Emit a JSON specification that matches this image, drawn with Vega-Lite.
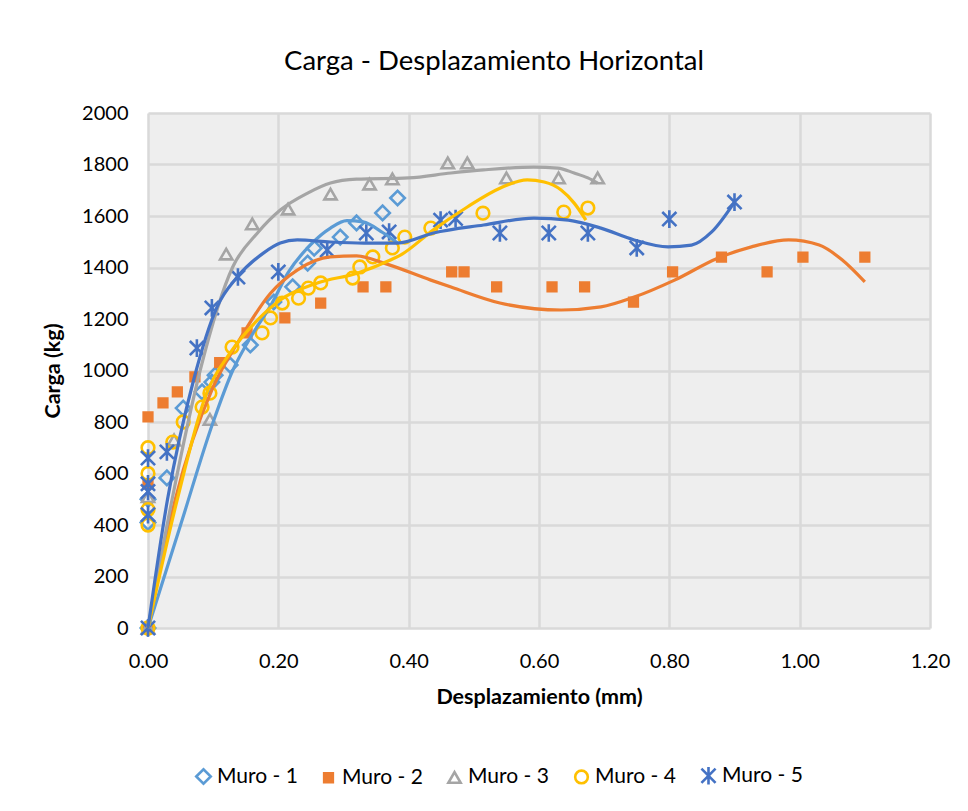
{
  "$schema": "https://vega.github.io/schema/vega-lite/v6.json",
  "width": 782,
  "height": 515,
  "autosize": {"type": "none"},
  "padding": {"left": 148, "top": 113, "right": 38, "bottom": 183},
  "background": "white",
  "config": {
    "view": {"fill": "#eeeeee", "stroke": null},
    "font": "Lato",
    "axis": {
      "domain": false,
      "ticks": false,
      "grid": true,
      "gridColor": "#d9d9d9",
      "gridWidth": 2.5,
      "labelFont": "Lato",
      "labelFontSize": 20,
      "labelColor": "#000000",
      "labelFlush": false,
      "titleFont": "Lato",
      "titleFontSize": 21.5,
      "titleFontWeight": "bold",
      "titleColor": "#000000"
    }
  },
  "title": {
    "text": "Carga - Desplazamiento Horizontal",
    "font": "Lato",
    "fontSize": 27.5,
    "fontWeight": "normal",
    "color": "#000000",
    "offset": 28,
    "dx": -45
  },
  "datasets": {
    "pts": [
      {"serie": "Muro - 1", "x": 0, "y": 0},
      {"serie": "Muro - 1", "x": 0, "y": 500},
      {"serie": "Muro - 1", "x": 0, "y": 410},
      {"serie": "Muro - 1", "x": 0.029, "y": 583},
      {"serie": "Muro - 1", "x": 0.054, "y": 854},
      {"serie": "Muro - 1", "x": 0.083, "y": 917},
      {"serie": "Muro - 1", "x": 0.098, "y": 955},
      {"serie": "Muro - 1", "x": 0.103, "y": 982},
      {"serie": "Muro - 1", "x": 0.126, "y": 1021},
      {"serie": "Muro - 1", "x": 0.157, "y": 1099},
      {"serie": "Muro - 1", "x": 0.193, "y": 1266},
      {"serie": "Muro - 1", "x": 0.222, "y": 1325},
      {"serie": "Muro - 1", "x": 0.245, "y": 1417},
      {"serie": "Muro - 1", "x": 0.255, "y": 1475},
      {"serie": "Muro - 1", "x": 0.295, "y": 1518},
      {"serie": "Muro - 1", "x": 0.32, "y": 1573},
      {"serie": "Muro - 1", "x": 0.36, "y": 1612},
      {"serie": "Muro - 1", "x": 0.383, "y": 1670},
      {"serie": "Muro - 2", "x": 0, "y": 0},
      {"serie": "Muro - 2", "x": 0, "y": 560},
      {"serie": "Muro - 2", "x": 0, "y": 820},
      {"serie": "Muro - 2", "x": 0.023, "y": 874},
      {"serie": "Muro - 2", "x": 0.045, "y": 917},
      {"serie": "Muro - 2", "x": 0.072, "y": 975},
      {"serie": "Muro - 2", "x": 0.11, "y": 1031},
      {"serie": "Muro - 2", "x": 0.152, "y": 1146},
      {"serie": "Muro - 2", "x": 0.21, "y": 1204},
      {"serie": "Muro - 2", "x": 0.265, "y": 1262},
      {"serie": "Muro - 2", "x": 0.33, "y": 1325},
      {"serie": "Muro - 2", "x": 0.365, "y": 1325},
      {"serie": "Muro - 2", "x": 0.466, "y": 1383},
      {"serie": "Muro - 2", "x": 0.485, "y": 1383},
      {"serie": "Muro - 2", "x": 0.535, "y": 1325},
      {"serie": "Muro - 2", "x": 0.62, "y": 1325},
      {"serie": "Muro - 2", "x": 0.67, "y": 1325},
      {"serie": "Muro - 2", "x": 0.745, "y": 1266},
      {"serie": "Muro - 2", "x": 0.805, "y": 1383},
      {"serie": "Muro - 2", "x": 0.88, "y": 1440},
      {"serie": "Muro - 2", "x": 0.95, "y": 1383},
      {"serie": "Muro - 2", "x": 1.005, "y": 1440},
      {"serie": "Muro - 2", "x": 1.1, "y": 1440},
      {"serie": "Muro - 3", "x": 0, "y": 0},
      {"serie": "Muro - 3", "x": 0, "y": 510},
      {"serie": "Muro - 3", "x": 0.04, "y": 730},
      {"serie": "Muro - 3", "x": 0.095, "y": 810},
      {"serie": "Muro - 3", "x": 0.12, "y": 1452},
      {"serie": "Muro - 3", "x": 0.16, "y": 1569},
      {"serie": "Muro - 3", "x": 0.215, "y": 1627},
      {"serie": "Muro - 3", "x": 0.28, "y": 1685},
      {"serie": "Muro - 3", "x": 0.34, "y": 1724},
      {"serie": "Muro - 3", "x": 0.375, "y": 1744},
      {"serie": "Muro - 3", "x": 0.46, "y": 1806},
      {"serie": "Muro - 3", "x": 0.49, "y": 1806},
      {"serie": "Muro - 3", "x": 0.55, "y": 1748},
      {"serie": "Muro - 3", "x": 0.63, "y": 1748},
      {"serie": "Muro - 3", "x": 0.69, "y": 1748},
      {"serie": "Muro - 4", "x": 0, "y": 0},
      {"serie": "Muro - 4", "x": 0, "y": 700},
      {"serie": "Muro - 4", "x": 0, "y": 600},
      {"serie": "Muro - 4", "x": 0, "y": 460},
      {"serie": "Muro - 4", "x": 0, "y": 400},
      {"serie": "Muro - 4", "x": 0.038, "y": 722},
      {"serie": "Muro - 4", "x": 0.054, "y": 800},
      {"serie": "Muro - 4", "x": 0.083, "y": 858},
      {"serie": "Muro - 4", "x": 0.095, "y": 912},
      {"serie": "Muro - 4", "x": 0.129, "y": 1091},
      {"serie": "Muro - 4", "x": 0.175, "y": 1146},
      {"serie": "Muro - 4", "x": 0.188, "y": 1204},
      {"serie": "Muro - 4", "x": 0.206, "y": 1262},
      {"serie": "Muro - 4", "x": 0.231, "y": 1281},
      {"serie": "Muro - 4", "x": 0.246, "y": 1320},
      {"serie": "Muro - 4", "x": 0.265, "y": 1340},
      {"serie": "Muro - 4", "x": 0.314, "y": 1359},
      {"serie": "Muro - 4", "x": 0.325, "y": 1402},
      {"serie": "Muro - 4", "x": 0.345, "y": 1441},
      {"serie": "Muro - 4", "x": 0.375, "y": 1476},
      {"serie": "Muro - 4", "x": 0.394, "y": 1518},
      {"serie": "Muro - 4", "x": 0.434, "y": 1553},
      {"serie": "Muro - 4", "x": 0.514, "y": 1611},
      {"serie": "Muro - 4", "x": 0.638, "y": 1615},
      {"serie": "Muro - 4", "x": 0.675, "y": 1631},
      {"serie": "Muro - 5", "x": 0, "y": 0},
      {"serie": "Muro - 5", "x": 0, "y": 660},
      {"serie": "Muro - 5", "x": 0, "y": 560},
      {"serie": "Muro - 5", "x": 0, "y": 530},
      {"serie": "Muro - 5", "x": 0, "y": 440},
      {"serie": "Muro - 5", "x": 0.029, "y": 684},
      {"serie": "Muro - 5", "x": 0.075, "y": 1087},
      {"serie": "Muro - 5", "x": 0.098, "y": 1243},
      {"serie": "Muro - 5", "x": 0.138, "y": 1363},
      {"serie": "Muro - 5", "x": 0.2, "y": 1383},
      {"serie": "Muro - 5", "x": 0.275, "y": 1468},
      {"serie": "Muro - 5", "x": 0.335, "y": 1534},
      {"serie": "Muro - 5", "x": 0.37, "y": 1538},
      {"serie": "Muro - 5", "x": 0.449, "y": 1584},
      {"serie": "Muro - 5", "x": 0.472, "y": 1590},
      {"serie": "Muro - 5", "x": 0.54, "y": 1534},
      {"serie": "Muro - 5", "x": 0.615, "y": 1534},
      {"serie": "Muro - 5", "x": 0.675, "y": 1534},
      {"serie": "Muro - 5", "x": 0.75, "y": 1476},
      {"serie": "Muro - 5", "x": 0.8, "y": 1588},
      {"serie": "Muro - 5", "x": 0.9, "y": 1654}
    ],
    "trend": [
      {"serie": "Muro - 1", "x": 0, "y": 0},
      {"serie": "Muro - 1", "x": 0.05, "y": 400},
      {"serie": "Muro - 1", "x": 0.1, "y": 800},
      {"serie": "Muro - 1", "x": 0.13, "y": 1000},
      {"serie": "Muro - 1", "x": 0.16, "y": 1140},
      {"serie": "Muro - 1", "x": 0.19, "y": 1260},
      {"serie": "Muro - 1", "x": 0.215, "y": 1380},
      {"serie": "Muro - 1", "x": 0.25, "y": 1490},
      {"serie": "Muro - 1", "x": 0.28, "y": 1553},
      {"serie": "Muro - 1", "x": 0.305, "y": 1582},
      {"serie": "Muro - 1", "x": 0.33, "y": 1577},
      {"serie": "Muro - 1", "x": 0.36, "y": 1536},
      {"serie": "Muro - 1", "x": 0.383, "y": 1495},
      {"serie": "Muro - 2", "x": 0, "y": 0},
      {"serie": "Muro - 2", "x": 0.042, "y": 500},
      {"serie": "Muro - 2", "x": 0.1, "y": 936},
      {"serie": "Muro - 2", "x": 0.14, "y": 1118},
      {"serie": "Muro - 2", "x": 0.188, "y": 1300},
      {"serie": "Muro - 2", "x": 0.229, "y": 1390},
      {"serie": "Muro - 2", "x": 0.28, "y": 1441},
      {"serie": "Muro - 2", "x": 0.32, "y": 1445},
      {"serie": "Muro - 2", "x": 0.362, "y": 1417},
      {"serie": "Muro - 2", "x": 0.434, "y": 1351},
      {"serie": "Muro - 2", "x": 0.465, "y": 1324},
      {"serie": "Muro - 2", "x": 0.54, "y": 1262},
      {"serie": "Muro - 2", "x": 0.634, "y": 1235},
      {"serie": "Muro - 2", "x": 0.695, "y": 1247},
      {"serie": "Muro - 2", "x": 0.746, "y": 1285},
      {"serie": "Muro - 2", "x": 0.808, "y": 1351},
      {"serie": "Muro - 2", "x": 0.875, "y": 1437},
      {"serie": "Muro - 2", "x": 0.926, "y": 1480},
      {"serie": "Muro - 2", "x": 0.983, "y": 1507},
      {"serie": "Muro - 2", "x": 1.03, "y": 1487},
      {"serie": "Muro - 2", "x": 1.065, "y": 1430},
      {"serie": "Muro - 2", "x": 1.1, "y": 1344},
      {"serie": "Muro - 3", "x": 0, "y": 0},
      {"serie": "Muro - 3", "x": 0.037, "y": 500},
      {"serie": "Muro - 3", "x": 0.08, "y": 1000},
      {"serie": "Muro - 3", "x": 0.13, "y": 1402},
      {"serie": "Muro - 3", "x": 0.168, "y": 1534},
      {"serie": "Muro - 3", "x": 0.203, "y": 1623},
      {"serie": "Muro - 3", "x": 0.245, "y": 1689},
      {"serie": "Muro - 3", "x": 0.28, "y": 1728},
      {"serie": "Muro - 3", "x": 0.32, "y": 1743},
      {"serie": "Muro - 3", "x": 0.4, "y": 1748},
      {"serie": "Muro - 3", "x": 0.465, "y": 1767},
      {"serie": "Muro - 3", "x": 0.515, "y": 1779},
      {"serie": "Muro - 3", "x": 0.592, "y": 1790},
      {"serie": "Muro - 3", "x": 0.629, "y": 1786},
      {"serie": "Muro - 3", "x": 0.654, "y": 1767},
      {"serie": "Muro - 3", "x": 0.675, "y": 1748},
      {"serie": "Muro - 3", "x": 0.69, "y": 1728},
      {"serie": "Muro - 4", "x": 0, "y": 0},
      {"serie": "Muro - 4", "x": 0.045, "y": 500},
      {"serie": "Muro - 4", "x": 0.09, "y": 912},
      {"serie": "Muro - 4", "x": 0.126, "y": 1068},
      {"serie": "Muro - 4", "x": 0.168, "y": 1196},
      {"serie": "Muro - 4", "x": 0.203, "y": 1274},
      {"serie": "Muro - 4", "x": 0.26, "y": 1340},
      {"serie": "Muro - 4", "x": 0.321, "y": 1378},
      {"serie": "Muro - 4", "x": 0.372, "y": 1429},
      {"serie": "Muro - 4", "x": 0.388, "y": 1449},
      {"serie": "Muro - 4", "x": 0.438, "y": 1546},
      {"serie": "Muro - 4", "x": 0.49, "y": 1635},
      {"serie": "Muro - 4", "x": 0.54, "y": 1708},
      {"serie": "Muro - 4", "x": 0.582, "y": 1740},
      {"serie": "Muro - 4", "x": 0.608, "y": 1732},
      {"serie": "Muro - 4", "x": 0.634, "y": 1701},
      {"serie": "Muro - 4", "x": 0.654, "y": 1650},
      {"serie": "Muro - 4", "x": 0.672, "y": 1584},
      {"serie": "Muro - 5", "x": 0, "y": 0},
      {"serie": "Muro - 5", "x": 0.03, "y": 500},
      {"serie": "Muro - 5", "x": 0.07, "y": 963},
      {"serie": "Muro - 5", "x": 0.106, "y": 1247},
      {"serie": "Muro - 5", "x": 0.137, "y": 1363},
      {"serie": "Muro - 5", "x": 0.177, "y": 1456},
      {"serie": "Muro - 5", "x": 0.203, "y": 1495},
      {"serie": "Muro - 5", "x": 0.229, "y": 1507},
      {"serie": "Muro - 5", "x": 0.28, "y": 1499},
      {"serie": "Muro - 5", "x": 0.331, "y": 1495},
      {"serie": "Muro - 5", "x": 0.383, "y": 1495},
      {"serie": "Muro - 5", "x": 0.438, "y": 1534},
      {"serie": "Muro - 5", "x": 0.515, "y": 1565},
      {"serie": "Muro - 5", "x": 0.592, "y": 1592},
      {"serie": "Muro - 5", "x": 0.645, "y": 1584},
      {"serie": "Muro - 5", "x": 0.695, "y": 1553},
      {"serie": "Muro - 5", "x": 0.746, "y": 1507},
      {"serie": "Muro - 5", "x": 0.798, "y": 1480},
      {"serie": "Muro - 5", "x": 0.834, "y": 1487},
      {"serie": "Muro - 5", "x": 0.865, "y": 1538},
      {"serie": "Muro - 5", "x": 0.9, "y": 1654}
    ]
  },
  "encoding": {
    "x": {
      "field": "x",
      "type": "quantitative",
      "title": "Desplazamiento (mm)",
      "scale": {"domain": [0, 1.2], "nice": false, "zero": false},
      "axis": {"values": [0, 0.2, 0.4, 0.6, 0.8, 1.0, 1.2], "format": ".2f", "labelPadding": 23, "titlePadding": 15}
    },
    "y": {
      "field": "y",
      "type": "quantitative",
      "title": "Carga (kg)",
      "scale": {"domain": [0, 2000], "nice": false},
      "axis": {"values": [0, 200, 400, 600, 800, 1000, 1200, 1400, 1600, 1800, 2000], "format": "d", "labelPadding": 20, "titlePadding": 17}
    }
  },
  "layer": [
    {
      "data": {"name": "pts"},
      "mark": {"type": "point", "strokeWidth": 2.6, "opacity": 1},
      "encoding": {
        "stroke": {
          "field": "serie", "type": "nominal",
          "scale": {"domain": ["Muro - 1", "Muro - 2", "Muro - 3", "Muro - 4", "Muro - 5"], "range": ["#5B9BD5", "#ED7D31", "#A5A5A5", "#FFC000", "#4472C4"]},
          "legend": {
            "title": null, "orient": "none", "legendX": 45, "legendY": 652, "direction": "horizontal", "columns": 5,
            "labelFont": "Lato", "labelFontSize": 21, "labelFontWeight": "normal", "labelColor": "#000000",
            "columnPadding": 20, "symbolStrokeWidth": 2.6, "labelOffset": 3
          }
        },
        "fill": {
          "field": "serie", "type": "nominal",
          "scale": {"domain": ["Muro - 1", "Muro - 2", "Muro - 3", "Muro - 4", "Muro - 5"], "range": ["transparent", "#ED7D31", "transparent", "transparent", "transparent"]}
        },
        "shape": {
          "field": "serie", "type": "nominal",
          "scale": {"domain": ["Muro - 1", "Muro - 2", "Muro - 3", "Muro - 4", "Muro - 5"], "range": ["diamond", "square", "triangle-up", "circle", "M-1,-1L1,1M-1,1L1,-1M0,-1.25L0,1.25"]}
        },
        "size": {
          "field": "serie", "type": "nominal",
          "scale": {"type": "ordinal", "domain": ["Muro - 1", "Muro - 2", "Muro - 3", "Muro - 4", "Muro - 5"], "range": [210, 75, 150, 160, 200]}
        }
      }
    },
    {
      "data": {"name": "trend"},
      "mark": {"type": "line", "strokeWidth": 3.2, "interpolate": "monotone"},
      "encoding": {
        "color": {
          "field": "serie", "type": "nominal",
          "scale": {"domain": ["Muro - 1", "Muro - 2", "Muro - 3", "Muro - 4", "Muro - 5"], "range": ["#5B9BD5", "#ED7D31", "#A5A5A5", "#FFC000", "#4472C4"]},
          "legend": null
        }
      }
    }
  ]
}
